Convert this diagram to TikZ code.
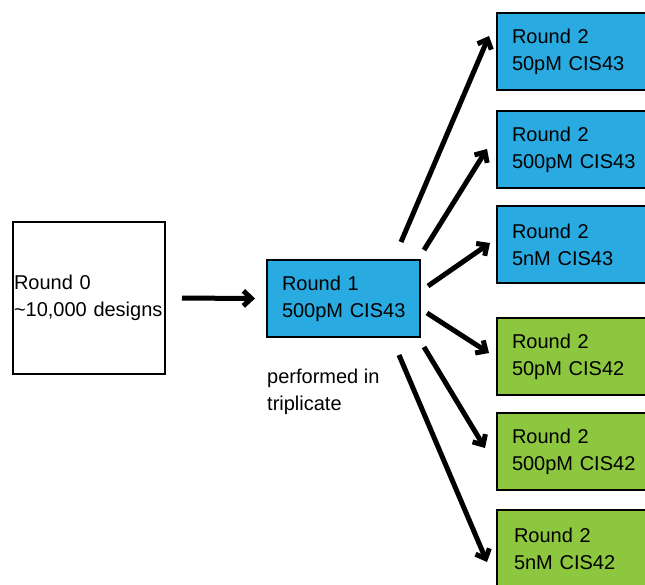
\documentclass[tikz,border=0pt]{standalone}
\usepackage{fontspec}
\setmainfont{Liberation Sans}
\usetikzlibrary{arrows.meta}
\definecolor{boxblue}{RGB}{41,171,226}
\definecolor{boxgreen}{RGB}{141,198,63}
\begin{document}
\begin{tikzpicture}[x=1pt,y=-1pt,
  every node/.style={font=\fontsize{20}{27}\selectfont},
  box/.style={draw=black,line width=2pt,anchor=north west,align=left,inner ysep=0pt},
  rbox/.style={box,minimum width=170pt,minimum height=77pt,inner xsep=15pt,text width=140pt},
  conn/.style={line width=5pt,-{Straight Barb[length=8pt,width=15pt,line width=5pt]}}]
\useasboundingbox (0,0) rectangle (645,584);
\clip (0,0) rectangle (645,584);
\node[box,minimum width=152pt,minimum height=152pt,inner xsep=1pt,text width=150pt] (r0) at (12,221) {Round 0\\\textasciitilde10,000 designs};
\node[box,fill=boxblue,minimum width=153pt,minimum height=77pt,inner xsep=15pt,text width=123pt] (r1) at (266,259) {Round 1\\\mbox{500pM CIS43}};
\node[anchor=base west,align=left,inner sep=0pt] (note) at (267,410) {performed in\\triplicate};
\node[rbox,fill=boxblue] (b1) at (496,12) {Round 2\\50pM CIS43};
\node[rbox,fill=boxblue] (b2) at (496,110) {Round 2\\500pM CIS43};
\node[rbox,fill=boxblue] (b3) at (496,205) {Round 2\\5nM CIS43};
\node[rbox,fill=boxgreen] (b4) at (496,317) {Round 2\\50pM CIS42};
\node[rbox,fill=boxgreen] (b5) at (496,412) {Round 2\\500pM CIS42};
\node[rbox,fill=boxgreen,inner xsep=17pt,text width=136pt] (b6) at (496,509) {Round 2\\5nM CIS42};
\coordinate (s1) at (401,242); \coordinate (t1) at (489,36);
\coordinate (s2) at (424,250); \coordinate (t2) at (487,149);
\coordinate (s3) at (428,286); \coordinate (t3) at (490,243);
\coordinate (s4) at (427,313); \coordinate (t4) at (489,353);
\coordinate (s5) at (424,347); \coordinate (t5) at (485,448);
\coordinate (s6) at (399,355); \coordinate (t6) at (487,562);
\draw[conn,shorten <=16pt,shorten >=11pt] (r0.east) -- (r1.west);
\draw[conn] (s1) -- (t1);
\draw[conn] (s2) -- (t2);
\draw[conn] (s3) -- (t3);
\draw[conn] (s4) -- (t4);
\draw[conn] (s5) -- (t5);
\draw[conn] (s6) -- (t6);
\end{tikzpicture}
\end{document}
